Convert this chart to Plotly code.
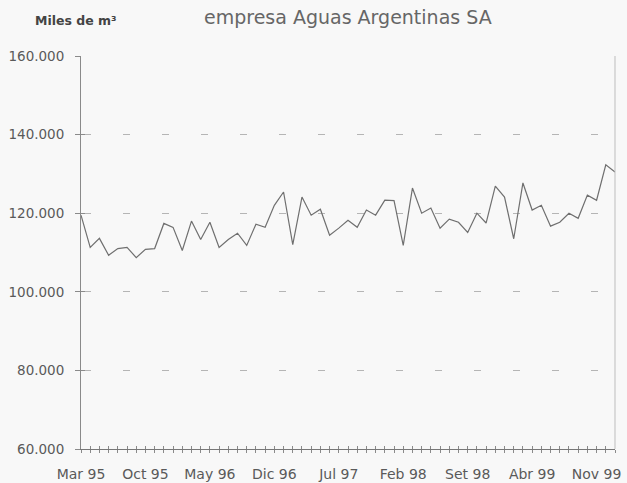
import plotly.graph_objects as go

# ---- data ----
month_names = ["Ene", "Feb", "Mar", "Abr", "May", "Jun", "Jul", "Ago", "Set", "Oct", "Nov", "Dic"]
start_month_index = 2   # Mar
start_year = 1995

values = [119500, 111300, 113600, 109300, 111000, 111300, 108700, 110800, 111000, 117400,
          116400, 110500, 118000, 113300, 117700, 111300, 113300, 114900, 111800, 117200,
          116400, 122000, 125400, 112000, 124100, 119500, 121000, 114400, 116200, 118200,
          116400, 120800, 119500, 123300, 123200, 111800, 126400, 120000, 121300, 116200,
          118500, 117700, 115100, 120000, 117500, 126900, 124100, 113500, 127700, 120800,
          122000, 116700, 117700, 120000, 118700, 124600, 123300, 132300, 130500]

labelled_months = ["Mar 95", "Oct 95", "May 96", "Dic 96", "Jul 97", "Feb 98", "Set 98", "Abr 99", "Nov 99"]
y_tick_values = [60000, 80000, 100000, 120000, 140000, 160000]
y_tick_labels = ["60.000", "80.000", "100.000", "120.000", "140.000", "160.000"]

title_text = "empresa Aguas Argentinas SA"
unit_text = "Miles de m³"

# ---- categories ----
months = []
for k in range(len(values)):
    m = start_month_index + k
    months.append(f"{month_names[m % 12]} {str(start_year + m // 12)[2:]}")
x_ticktext = [mm if mm in labelled_months else "" for mm in months]

FONT = "DejaVu Sans, Liberation Sans, Arial, sans-serif"
TXT = "#5a5a5a"
LINE = "#6f6f6f"
AXIS = "#8a8a8a"

fig = go.Figure()
fig.add_trace(go.Scatter(x=months, y=values, mode="lines",
                         line=dict(color=LINE, width=1.2), hoverinfo="skip",
                         showlegend=False))
# invisible trace carrying the inner half of the crossing tick marks
fig.add_trace(go.Scatter(x=months, y=values, mode="lines", xaxis="x2", yaxis="y2",
                         opacity=0, hoverinfo="skip", showlegend=False))

ymin, ymax = 60000, 160000
fig.update_layout(
    width=627, height=483,
    margin=dict(l=81, r=12, t=56, b=34, autoexpand=False),
    paper_bgcolor="#f8f8f8", plot_bgcolor="#f8f8f8",
    font=dict(family=FONT, color=TXT, size=13),
    xaxis=dict(type="category", range=[0, len(values) - 1], automargin=False,
               tickmode="array", tickvals=months, ticktext=x_ticktext,
               ticks="outside", ticklen=3, tickcolor=AXIS, tickwidth=1,
               ticklabelstandoff=9,
               showline=True, linecolor="#777777", linewidth=1,
               showgrid=False, zeroline=False,
               tickfont=dict(size=14, color=TXT), tickangle=0),
    xaxis2=dict(type="category", overlaying="x", anchor="y", side="bottom",
                range=[0, len(values) - 1], tickmode="array", tickvals=months,
                ticktext=["" for _ in months], ticks="inside", ticklen=3,
                tickcolor=AXIS, tickwidth=1, showline=False, showgrid=False,
                zeroline=False, showticklabels=False, automargin=False),
    yaxis=dict(range=[ymin, ymax], tickmode="array", tickvals=y_tick_values,
               ticktext=y_tick_labels, ticks="outside", ticklen=5, tickcolor=AXIS,
               ticklabelstandoff=8,
               showline=True, linecolor=AXIS, linewidth=1, automargin=False,
               showgrid=True, gridcolor="#b5b5b5", gridwidth=1,
               griddash="0px,3px,7px,29px", zeroline=False,
               tickfont=dict(size=13.5, color=TXT)),
    yaxis2=dict(range=[ymin, ymax], overlaying="y", anchor="x", side="left",
                tickmode="array", tickvals=y_tick_values, ticks="inside",
                ticklen=4, tickcolor=AXIS, showticklabels=False, showline=False,
                showgrid=False, zeroline=False, automargin=False),
    shapes=[dict(type="line", xref="paper", yref="paper", x0=1, x1=1, y0=0, y1=1,
                 line=dict(color="#bdbdbd", width=1))],
    annotations=[
        dict(text=title_text, xref="paper", yref="paper", x=0.5, y=1.1,
             xanchor="center", yanchor="middle", showarrow=False,
             font=dict(size=19, color="#666666", family=FONT)),
        dict(text=f"<b>{unit_text}</b>", xref="paper", yref="paper", x=-0.09, y=1.09,
             xanchor="left", yanchor="middle", showarrow=False,
             font=dict(size=12.5, color="#444444", family=FONT)),
    ],
)

fig.write_html("out.html", config={"displayModeBar": False},
               post_script="document.body.style.margin='0';")
